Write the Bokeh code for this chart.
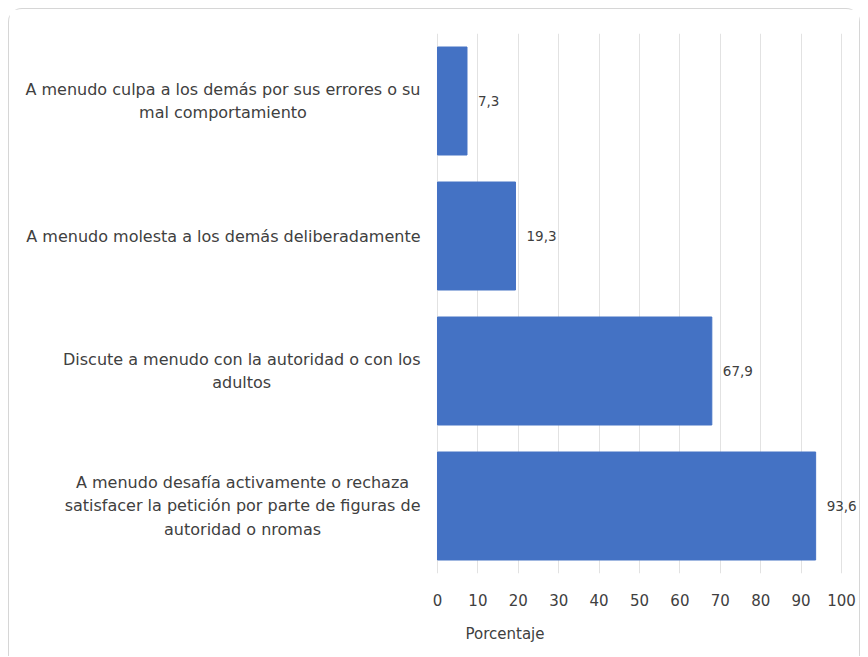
from bokeh.plotting import figure
from bokeh.models import ColumnDataSource, FactorRange, Title, FixedTicker
from bokeh.core.properties import value
from bokeh.embed import file_html
from bokeh.resources import INLINE

categories = [
    "A menudo culpa a los demás por sus errores o su\nmal comportamiento",
    "A menudo molesta a los demás deliberadamente",
    "Discute a menudo con la autoridad o con los\nadultos",
    "A menudo desafía activamente o rechaza\nsatisfacer la petición por parte de figuras de\nautoridad o nromas",
]
values = [7.3, 19.3, 67.9, 93.6]
value_labels = [f"{v:.1f}".replace(".", ",") for v in values]
x_ticks = [0, 10, 20, 30, 40, 50, 60, 70, 80, 90, 100]
x_title = "Porcentaje"

FONT = "DejaVu Sans"
TEXT_COLOR = "#404040"

src = ColumnDataSource(dict(cat=categories, val=values, lab=value_labels,
                            zero=[0] * len(values)))

factors = list(reversed(categories))
# the frame spans the whole width; the left part holds the category labels
p = figure(
    width=852, height=648,
    y_range=FactorRange(factors=factors),
    x_range=(-105.94, 104.95),
    output_backend="svg", toolbar_location=None,
    min_border_left=0, min_border_right=0,
    min_border_top=24, min_border_bottom=84,
)
p.styles = {"margin": "8px 8px 0px 8px", "border": "1px solid #d6d6d6",
            "border-bottom": "none", "border-radius": "14px 14px 0 0"}

p.hbar(y="cat", right="val", left=0, height=0.8, source=src,
       fill_color="#4472C4", line_color="#4472C4")

p.text(x="val", y="cat", text="lab", source=src, x_offset=11,
       text_font=value(FONT), text_font_size="13.5px", text_color=TEXT_COLOR,
       text_baseline="middle", text_align="left")

# category labels, right edge just left of the value axis origin, lines centred
p.text(x="zero", y="cat", text="cat", source=src, x_offset=-17,
       anchor=value("center_right"), text_align="center", text_baseline="middle",
       text_font=value(FONT), text_font_size="16px", text_color=TEXT_COLOR,
       text_line_height=1.22)

p.xaxis.ticker = FixedTicker(ticks=x_ticks)
p.xaxis.axis_line_color = None
p.xaxis.major_tick_line_color = None
p.xaxis.minor_tick_line_color = None
p.xaxis.major_label_text_font = FONT
p.xaxis.major_label_text_font_size = "15px"
p.xaxis.major_label_text_color = TEXT_COLOR
p.xaxis.major_label_standoff = 14

p.yaxis.visible = False

p.xgrid.grid_line_color = "#e2e2e2"
p.xgrid.ticker = FixedTicker(ticks=x_ticks)
p.ygrid.grid_line_color = None
p.outline_line_color = None

p.add_layout(Title(text=x_title, align="left", offset=456, text_font=FONT,
                   text_font_size="15px", text_font_style="normal",
                   text_color=TEXT_COLOR, standoff=29), "below")

open("out.html", "w").write(file_html(p, INLINE))
